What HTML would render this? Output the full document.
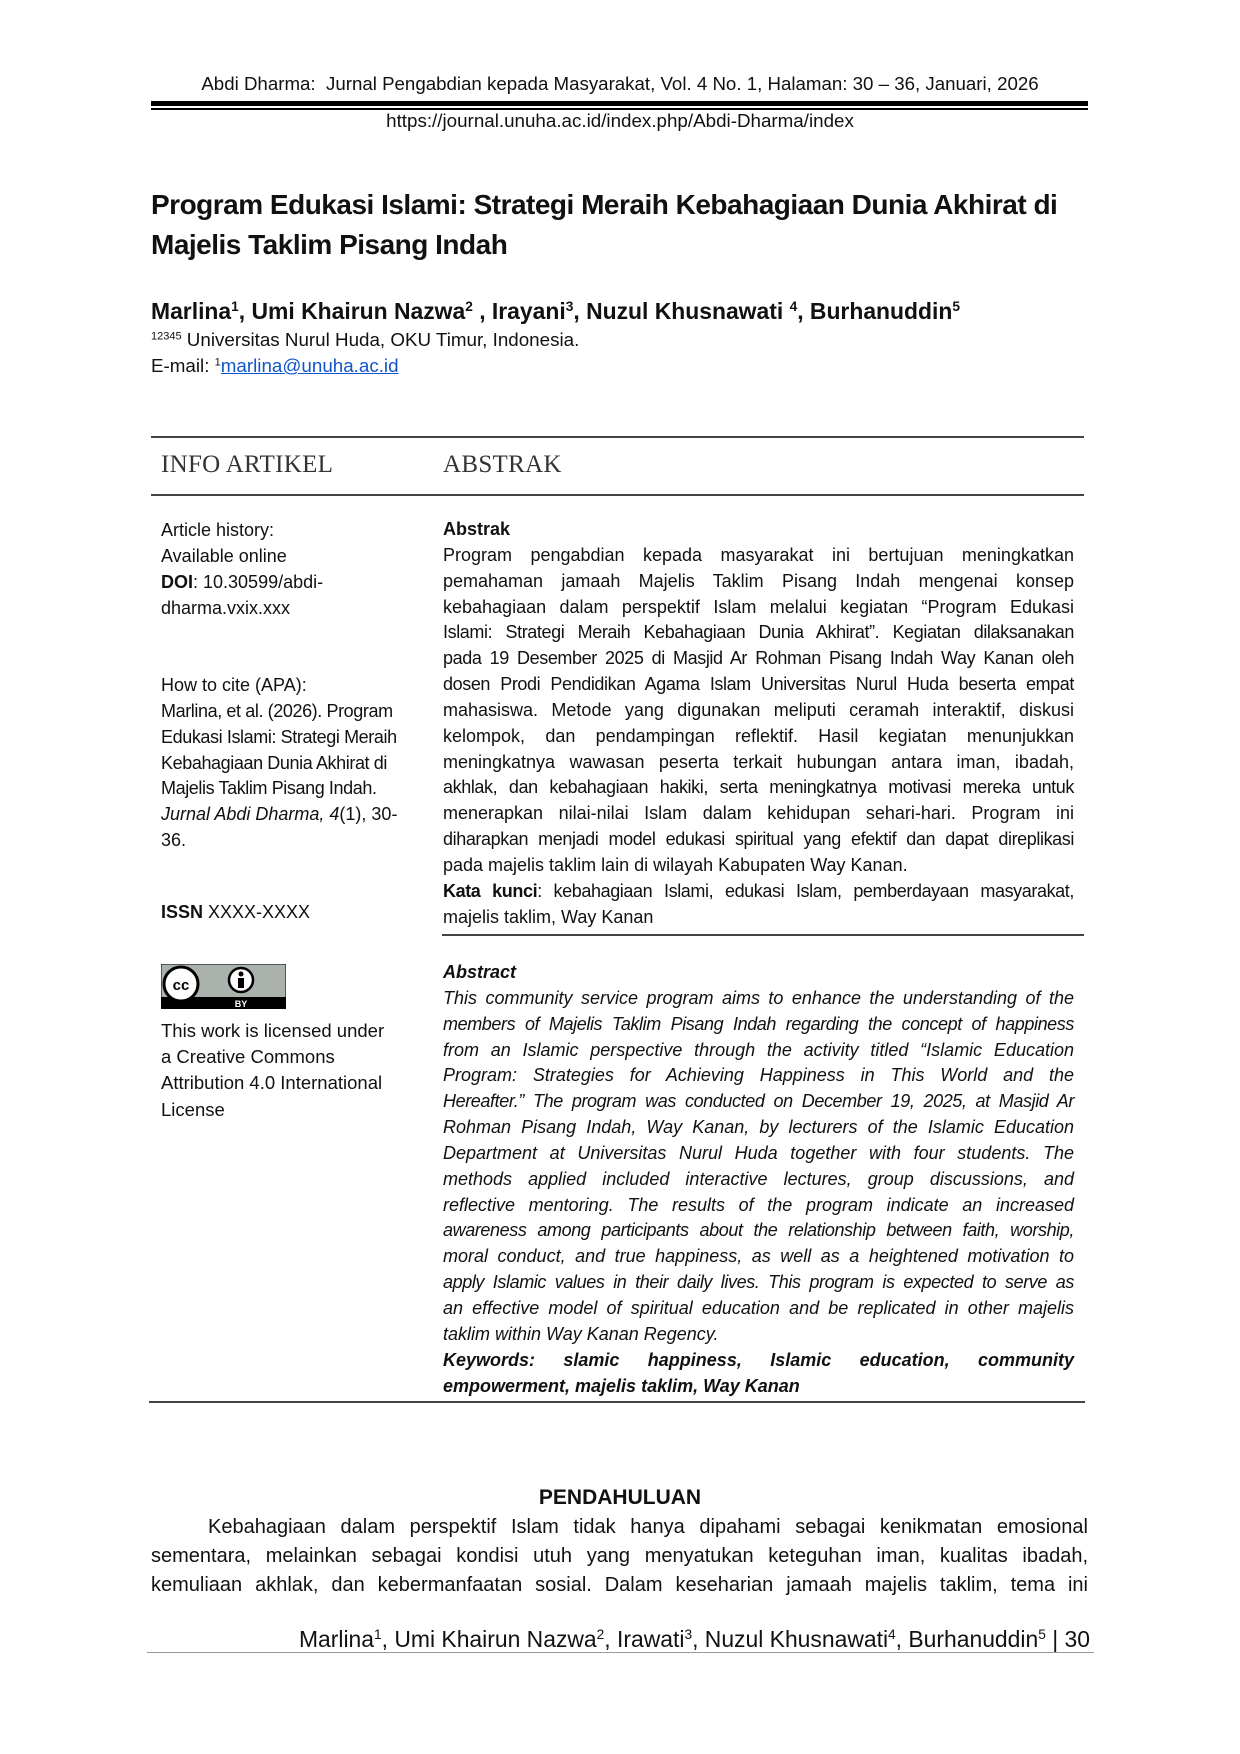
<!DOCTYPE html>
<html><head><meta charset="utf-8">
<style>
html,body{margin:0;padding:0;background:#fff;}
body{width:1240px;height:1754px;position:relative;overflow:hidden;font-family:"Liberation Sans",Arial,sans-serif;color:#111;}
.a{position:absolute;white-space:nowrap;}
.blk{position:absolute;font-size:18px;line-height:25.85px;}
.blk div{white-space:nowrap;}
.j{text-align:justify;text-align-last:justify;white-space:normal!important;}
.rule{position:absolute;background:#444;}
sup{font-size:60%;line-height:0;vertical-align:0.6em;}
.cond{letter-spacing:-0.4px;}
</style></head><body>

<div class="a" style="left:0;width:1240px;text-align:center;top:73px;font-size:18.7px;">Abdi Dharma:&nbsp; Jurnal Pengabdian kepada Masyarakat, Vol. 4 No. 1, Halaman: 30 – 36, Januari, 2026</div>
<div class="rule" style="left:151px;width:937px;top:101px;height:5px;background:#000;"></div>
<div class="rule" style="left:151px;width:937px;top:108px;height:2px;background:#000;"></div>
<div class="a" style="left:0;width:1240px;text-align:center;top:110px;font-size:18.8px;">https://journal.unuha.ac.id/index.php/Abdi-Dharma/index</div>

<div class="a" style="left:151px;top:185px;font-size:28px;font-weight:bold;line-height:40px;letter-spacing:-0.5px;">Program Edukasi Islami: Strategi Meraih Kebahagiaan Dunia Akhirat di<br>Majelis Taklim Pisang Indah</div>

<div class="a" style="left:151px;top:298px;font-size:22.9px;font-weight:bold;">Marlina<sup>1</sup>, Umi Khairun Nazwa<sup>2</sup> , Irayani<sup>3</sup>, Nuzul Khusnawati <sup>4</sup>, Burhanuddin<sup>5</sup></div>
<div class="a" style="left:151px;top:329px;font-size:18.8px;"><sup style="font-size:11px">12345</sup> Universitas Nurul Huda, OKU Timur, Indonesia.</div>
<div class="a" style="left:151px;top:355px;font-size:18.8px;">E-mail: <sup style="font-size:11px">1</sup><span style="color:#1155cc;text-decoration:underline;">marlina@unuha.ac.id</span></div>

<div class="rule" style="left:151px;width:933px;top:436px;height:2px;"></div>
<div class="a" style="left:161px;top:451px;font-size:25px;font-family:'Liberation Serif',serif;letter-spacing:0.3px;color:#333;">INFO ARTIKEL</div>
<div class="a" style="left:443px;top:451px;font-size:25px;font-family:'Liberation Serif',serif;letter-spacing:0.3px;color:#333;">ABSTRAK</div>
<div class="rule" style="left:151px;width:933px;top:494px;height:2px;"></div>

<div class="blk" style="left:161px;top:518px;">
<div>Article history:</div><div>Available online</div><div><b>DOI</b>: 10.30599/abdi-</div><div>dharma.vxix.xxx</div>
</div>
<div class="blk" style="left:161px;top:673px;">
<div>How to cite (APA):</div>
<div class="cond">Marlina, et al. (2026). Program</div>
<div class="cond">Edukasi Islami: Strategi Meraih</div>
<div class="cond">Kebahagiaan Dunia Akhirat di</div>
<div class="cond">Majelis Taklim Pisang Indah.</div>
<div><i>Jurnal Abdi Dharma, 4</i>(1), 30-</div>
<div>36.</div>
</div>
<div class="blk" style="left:161px;top:900px;"><div><b>ISSN</b> XXXX-XXXX</div></div>

<svg style="position:absolute;left:161px;top:964px;" width="125" height="45" viewBox="0 0 125 45">
<rect x="0" y="0" width="125" height="45" fill="#aab2ab" stroke="#000" stroke-width="1"/>
<rect x="0" y="33" width="125" height="12" fill="#000"/>
<circle cx="20" cy="20" r="17" fill="#fff" stroke="#000" stroke-width="3"/>
<text x="20" y="26" font-family="Liberation Sans" font-weight="bold" font-size="15" text-anchor="middle">cc</text>
<circle cx="80" cy="16" r="12" fill="#fff" stroke="#000" stroke-width="2.5"/>
<circle cx="80" cy="10" r="2.5" fill="#000"/>
<rect x="77" y="14" width="6" height="10" fill="#000"/>
<text x="80" y="43" font-family="Liberation Sans" font-weight="bold" font-size="9" fill="#fff" text-anchor="middle">BY</text>
</svg>
<div class="blk" style="left:161px;top:1018px;line-height:26.2px;font-size:18.5px;">
<div>This work is licensed under</div><div>a Creative Commons</div><div>Attribution 4.0 International</div><div>License</div>
</div>

<div class="blk" style="left:443px;top:517px;width:631px;">
<div><b>Abstrak</b></div>
<div class="j">Program pengabdian kepada masyarakat ini bertujuan meningkatkan</div>
<div class="j">pemahaman jamaah Majelis Taklim Pisang Indah mengenai konsep</div>
<div class="j">kebahagiaan dalam perspektif Islam melalui kegiatan “Program Edukasi</div>
<div class="j cond">Islami: Strategi Meraih Kebahagiaan Dunia Akhirat”. Kegiatan dilaksanakan</div>
<div class="j cond">pada 19 Desember 2025 di Masjid Ar Rohman Pisang Indah Way Kanan oleh</div>
<div class="j cond">dosen Prodi Pendidikan Agama Islam Universitas Nurul Huda beserta empat</div>
<div class="j">mahasiswa. Metode yang digunakan meliputi ceramah interaktif, diskusi</div>
<div class="j">kelompok, dan pendampingan reflektif. Hasil kegiatan menunjukkan</div>
<div class="j">meningkatnya wawasan peserta terkait hubungan antara iman, ibadah,</div>
<div class="j cond">akhlak, dan kebahagiaan hakiki, serta meningkatnya motivasi mereka untuk</div>
<div class="j">menerapkan nilai-nilai Islam dalam kehidupan sehari-hari. Program ini</div>
<div class="j cond">diharapkan menjadi model edukasi spiritual yang efektif dan dapat direplikasi</div>
<div>pada majelis taklim lain di wilayah Kabupaten Way Kanan.</div>
<div class="j cond"><b>Kata kunci</b>: kebahagiaan Islami, edukasi Islam, pemberdayaan masyarakat,</div>
<div>majelis taklim, Way Kanan</div>
</div>
<div class="rule" style="left:442px;width:642px;top:934px;height:2px;"></div>

<div class="blk" style="left:443px;top:960px;width:631px;font-style:italic;">
<div><b>Abstract</b></div>
<div class="j">This community service program aims to enhance the understanding of the</div>
<div class="j cond">members of Majelis Taklim Pisang Indah regarding the concept of happiness</div>
<div class="j">from an Islamic perspective through the activity titled “Islamic Education</div>
<div class="j">Program: Strategies for Achieving Happiness in This World and the</div>
<div class="j cond">Hereafter.” The program was conducted on December 19, 2025, at Masjid Ar</div>
<div class="j">Rohman Pisang Indah, Way Kanan, by lecturers of the Islamic Education</div>
<div class="j">Department at Universitas Nurul Huda together with four students. The</div>
<div class="j">methods applied included interactive lectures, group discussions, and</div>
<div class="j">reflective mentoring. The results of the program indicate an increased</div>
<div class="j cond">awareness among participants about the relationship between faith, worship,</div>
<div class="j">moral conduct, and true happiness, as well as a heightened motivation to</div>
<div class="j cond">apply Islamic values in their daily lives. This program is expected to serve as</div>
<div class="j">an effective model of spiritual education and be replicated in other majelis</div>
<div>taklim within Way Kanan Regency.</div>
<div class="j"><b>Keywords: slamic happiness, Islamic education, community</b></div>
<div><b>empowerment, majelis taklim, Way Kanan</b></div>
</div>
<div class="rule" style="left:149px;width:936px;top:1401px;height:2px;"></div>

<div class="a" style="left:0;width:1240px;text-align:center;top:1486px;font-size:21px;font-weight:bold;">PENDAHULUAN</div>
<div class="blk" style="left:151px;top:1513px;width:937px;font-size:20px;line-height:29px;">
<div class="j" style="padding-left:57px;">Kebahagiaan dalam perspektif Islam tidak hanya dipahami sebagai kenikmatan emosional</div>
<div class="j">sementara, melainkan sebagai kondisi utuh yang menyatukan keteguhan iman, kualitas ibadah,</div>
<div class="j">kemuliaan akhlak, dan kebermanfaatan sosial. Dalam keseharian jamaah majelis taklim, tema ini</div>
</div>

<div class="a" style="right:150px;top:1626px;font-size:22.9px;">Marlina<sup>1</sup>, Umi Khairun Nazwa<sup>2</sup>, Irawati<sup>3</sup>, Nuzul Khusnawati<sup>4</sup>, Burhanuddin<sup>5</sup> | 30</div>
<div class="rule" style="left:147px;width:947px;top:1652px;height:1px;background:#999;"></div>

</body></html>
